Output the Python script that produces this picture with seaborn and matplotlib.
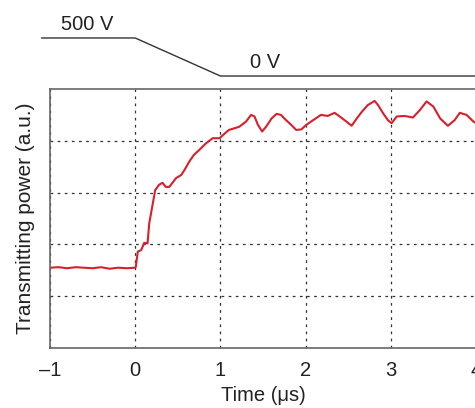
import numpy as np
import pandas as pd
import matplotlib
matplotlib.use("Agg")
import matplotlib.pyplot as plt
import seaborn as sns

# ---- data ----
time_us = [-1.0, -0.9, -0.8, -0.7, -0.6, -0.5, -0.4, -0.3, -0.2, -0.1, 0.0,
           0.008, 0.03, 0.07, 0.106, 0.145, 0.165, 0.2, 0.235, 0.28, 0.32, 0.36, 0.4,
           0.48, 0.54, 0.58, 0.635, 0.69, 0.75, 0.83, 0.91, 0.99, 1.05, 1.1, 1.22,
           1.30, 1.36, 1.40, 1.44, 1.49, 1.54, 1.60, 1.66, 1.71, 1.77, 1.83, 1.89,
           1.95, 2.01, 2.09, 2.18, 2.26, 2.34, 2.40, 2.48, 2.54, 2.60, 2.66, 2.73,
           2.81, 2.85, 2.91, 2.97, 3.01, 3.07, 3.16, 3.26, 3.34, 3.42, 3.50, 3.58,
           3.67, 3.75, 3.81, 3.89, 3.97, 4.05]
power_au = [1.55, 1.56, 1.54, 1.56, 1.55, 1.54, 1.56, 1.53, 1.55, 1.54, 1.55,
            1.57, 1.86, 1.89, 2.03, 2.02, 2.41, 2.73, 3.05, 3.15, 3.19, 3.11, 3.11,
            3.28, 3.34, 3.44, 3.60, 3.73, 3.82, 3.95, 4.05, 4.05, 4.14, 4.21, 4.27,
            4.37, 4.50, 4.47, 4.31, 4.18, 4.28, 4.43, 4.52, 4.50, 4.40, 4.31, 4.21,
            4.22, 4.31, 4.40, 4.50, 4.48, 4.54, 4.47, 4.37, 4.29, 4.43, 4.56, 4.69,
            4.77, 4.69, 4.53, 4.39, 4.34, 4.47, 4.48, 4.45, 4.59, 4.76, 4.66, 4.43,
            4.29, 4.40, 4.54, 4.50, 4.37, 4.30]

volt_time = [-1.1, 0.0, 1.0, 4.2]
volt_value = [500, 500, 0, 0]
volt_labels = ["500 V", "0 V"]

x_ticks = [-1, 0, 1, 2, 3, 4]
y_ticks = [1, 2, 3, 4]

df = pd.DataFrame({"t": time_us, "p": power_au})
dfv = pd.DataFrame({"t": volt_time, "v": volt_value})

sns.set_style("white")
plt.rcParams["font.family"] = ["Liberation Sans", "DejaVu Sans"]

W, H = 475, 408
fig = plt.figure(figsize=(W / 100, H / 100), dpi=100)

# main axes (right edge extends slightly beyond figure, as in reference)
ax = fig.add_axes([50 / W, 60 / H, 426 / W, 259 / H])
sns.lineplot(data=df, x="t", y="p", ax=ax, color="#d91f2b", lw=1.5)
ax.set_xlim(-1, 4)
ax.set_ylim(0, 5)
ax.set_xticks(x_ticks)
ax.set_xticklabels([str(v).replace("-", "\u2013") for v in x_ticks])
ax.set_yticks(y_ticks)
ax.set_yticklabels([])
ax.tick_params(axis="both", direction="in", length=9, width=1, color="#777777",
               labelsize=14.5, pad=9, labelcolor="#222222")
ax.grid(True, color="#333333", linestyle=(0, (2.2, 3.5)), lw=0.9)
for s in ax.spines.values():
    s.set_color("#666666")
    s.set_linewidth(1.2)
ax.set_xlabel("Time (\u03bcs)", fontsize=14.5, color="#222222", labelpad=5)
ax.set_ylabel("Transmitting power (a.u.)", fontsize=15, color="#222222", labelpad=2)

# voltage trace axes above
axv = fig.add_axes([50 / W, (H - 84) / H, 426 / W, 54 / H], sharex=ax)
sns.lineplot(data=dfv, x="t", y="v", ax=axv, color="#333333", lw=1.0, clip_on=False)
axv.set_ylim(-105, 605)
axv.axis("off")
axv.text(-0.56, 683, volt_labels[0], ha="center", va="center", fontsize=14.5, color="#222222")
axv.text(1.52, 184, volt_labels[1], ha="center", va="center", fontsize=14.5, color="#222222")
ax.set_xlim(-1, 4)

fig.savefig("out.png", dpi=100)
